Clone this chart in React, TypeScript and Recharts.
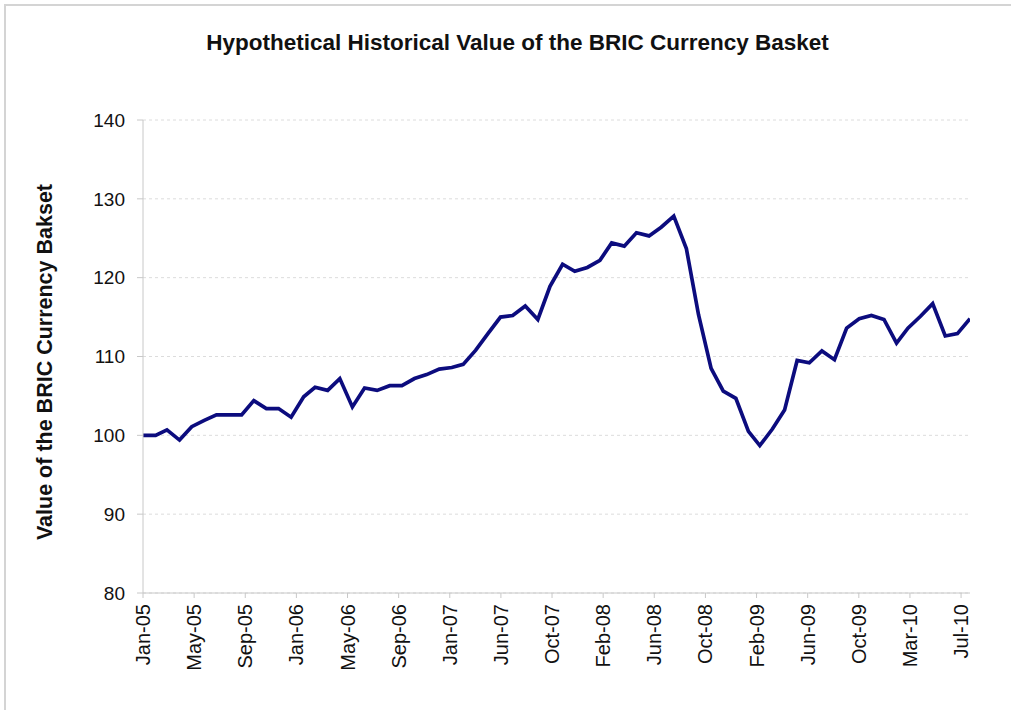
import React from "react";
import { LineChart, Line, XAxis, YAxis, CartesianGrid } from "recharts";

const TITLE = "Hypothetical Historical Value of the BRIC Currency Basket";
const Y_LABEL = "Value of the BRIC Currency Bakset";

const months = [
  "2005-01","2005-02","2005-03","2005-04","2005-05","2005-06","2005-07","2005-08","2005-09","2005-10","2005-11","2005-12",
  "2006-01","2006-02","2006-03","2006-04","2006-05","2006-06","2006-07","2006-08","2006-09","2006-10","2006-11","2006-12",
  "2007-01","2007-02","2007-03","2007-04","2007-05","2007-06","2007-07","2007-08","2007-09","2007-10","2007-11","2007-12",
  "2008-01","2008-02","2008-03","2008-04","2008-05","2008-06","2008-07","2008-08","2008-09","2008-10","2008-11","2008-12",
  "2009-01","2009-02","2009-03","2009-04","2009-05","2009-06","2009-07","2009-08","2009-09","2009-10","2009-11","2009-12",
  "2010-01","2010-02","2010-03","2010-04","2010-05","2010-06","2010-07","2010-08",
];

const values = [
  100.0, 100.0, 100.7, 99.4, 101.1, 101.9, 102.6, 102.6, 102.6, 104.4, 103.4, 103.4,
  102.3, 104.9, 106.1, 105.7, 107.2, 103.6, 106.0, 105.7, 106.3, 106.3, 107.2, 107.7,
  108.4, 108.6, 109.0, 110.8, 112.9, 115.0, 115.2, 116.4, 114.7, 118.9, 121.7, 120.8,
  121.3, 122.2, 124.4, 124.0, 125.7, 125.3, 126.4, 127.8, 123.7, 115.3, 108.5, 105.6,
  104.7, 100.5, 98.7, 100.8, 103.2, 109.5, 109.2, 110.7, 109.6, 113.6, 114.8, 115.2,
  114.7, 111.7, 113.6, 115.1, 116.7, 112.6, 112.9, 114.8,
];

const tickLabels = [
  "Jan-05","May-05","Sep-05","Jan-06","May-06","Sep-06","Jan-07","Jun-07","Oct-07",
  "Feb-08","Jun-08","Oct-08","Feb-09","Jun-09","Oct-09","Mar-10","Jul-10",
];
const TICK_STEP_DAYS = 126;
const yTicks = [80, 90, 100, 110, 120, 130, 140];

const DAY_MS = 86400000;
const startMs = Date.UTC(2005, 0, 1);
const dayOf = (ym: string) => {
  const [y, m] = ym.split("-").map(Number);
  return Math.round((Date.UTC(y, m - 1, 1) - startMs) / DAY_MS);
};

const data = months.map((m, i) => ({ day: dayOf(m), value: values[i] }));
const xTicks = tickLabels.map((_, i) => i * TICK_STEP_DAYS);
const lastDay = dayOf(months[months.length - 1]);

const FONT = "'Liberation Sans', Arial, Helvetica, sans-serif";

const XTick = (props: any) => {
  const { x, y, payload } = props;
  const label = tickLabels[Math.round(payload.value / TICK_STEP_DAYS)];
  return (
    <g transform={`translate(${x},${y})`}>
      <text
        x={0}
        y={0}
        dx={-4}
        dy={7}
        transform="rotate(-90)"
        textAnchor="end"
        fontSize={20}
        fontFamily={FONT}
        fill="#111"
      >
        {label}
      </text>
    </g>
  );
};

const YLabel = () => (
  <text
    x={45}
    y={362}
    transform="rotate(-90 45 362)"
    textAnchor="middle"
    dominantBaseline="central"
    fontSize={21.5}
    fontWeight="bold"
    fontFamily={FONT}
    fill="#111"
  >
    {Y_LABEL}
  </text>
);

export default function App() {
  return (
    <div style={{ position: "absolute", left: 0, top: 0, width: 1011, height: 710, background: "#fff", overflow: "hidden" }}>
      <div
        style={{
          position: "absolute",
          left: 4,
          top: 4,
          width: 1011,
          height: 710,
          borderTop: "2px solid #d4d4d4",
          borderLeft: "2px solid #d4d4d4",
        }}
      />
      <div
        style={{
          position: "absolute",
          left: 0,
          top: 30,
          width: 1035,
          textAlign: "center",
          fontFamily: FONT,
          fontWeight: "bold",
          fontSize: 22.5,
          color: "#111",
        }}
      >
        {TITLE}
      </div>
      <div style={{ position: "absolute", left: 0, top: 0 }}>
        <LineChart
          width={1011}
          height={710}
          data={data}
          margin={{ top: 120, right: 41, bottom: 27, left: 83 }}
        >
          <CartesianGrid
            horizontal={true}
            vertical={false}
            stroke="#dcdcdc"
            strokeDasharray="3 3"
          />
          <XAxis
            dataKey="day"
            type="number"
            domain={[0, lastDay]}
            ticks={xTicks}
            interval={0}
            height={90}
            tick={<XTick />}
            tickLine={{ stroke: "#c8c8c8" }}
            tickSize={5}
            axisLine={{ stroke: "#c8c8c8" }}
            allowDataOverflow
          />
          <YAxis
            type="number"
            domain={[80, 140]}
            ticks={yTicks}
            interval={0}
            width={60}
            tickSize={6}
            tickMargin={12}
            tickLine={{ stroke: "#c8c8c8" }}
            axisLine={{ stroke: "#c8c8c8" }}
            tick={{ fontSize: 19, fontFamily: FONT, fill: "#111" }}
            label={<YLabel />}
          />
          <Line
            type="linear"
            dataKey="value"
            stroke="#0c0c7e"
            strokeWidth={3.7}
            dot={false}
            isAnimationActive={false}
          />
        </LineChart>
      </div>
    </div>
  );
}
